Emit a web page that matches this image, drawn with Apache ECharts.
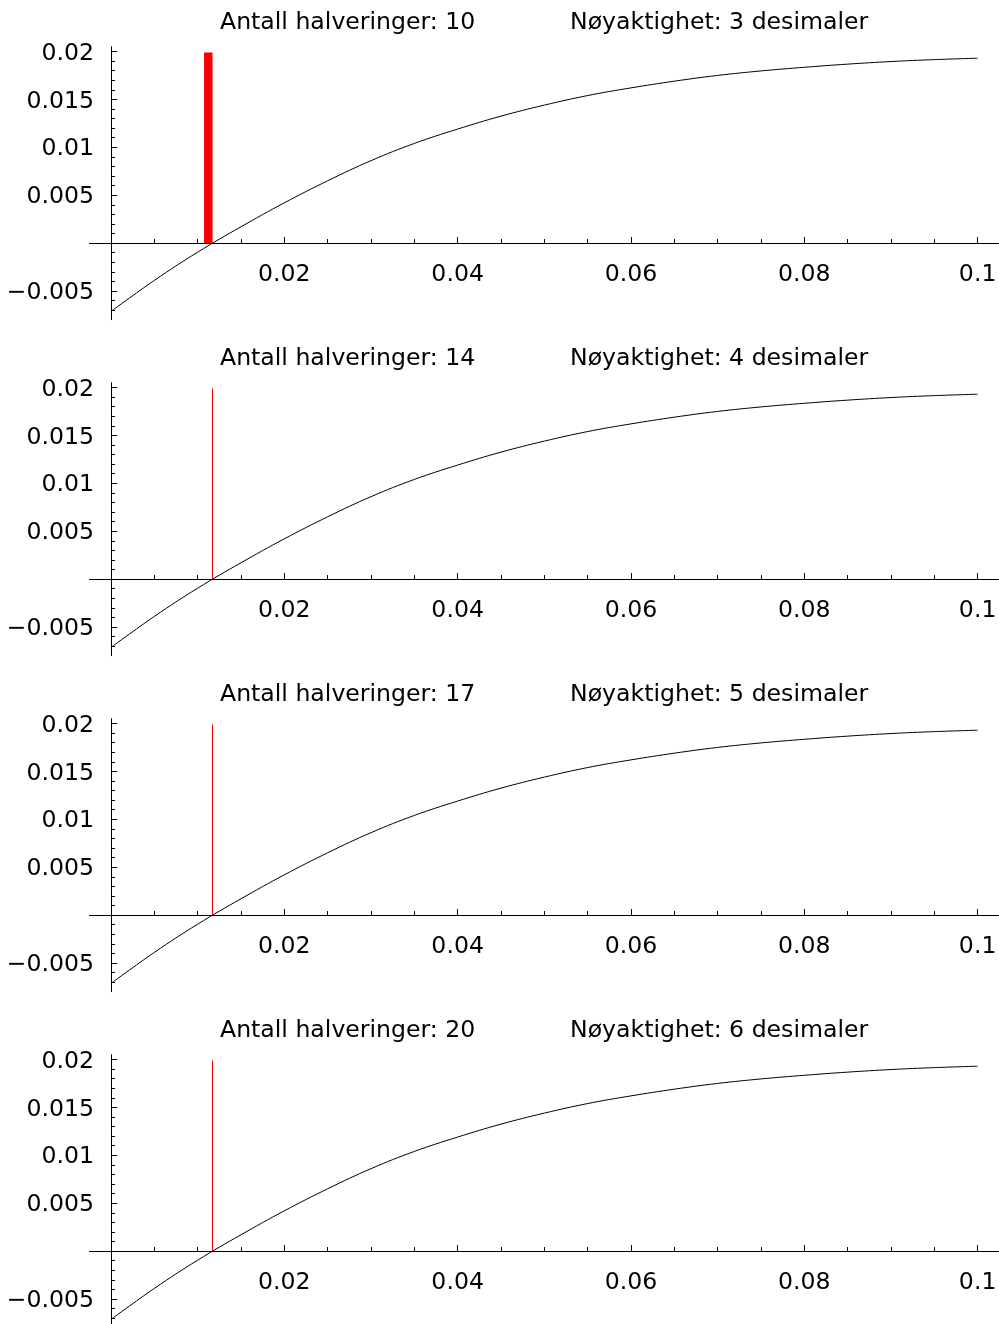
<!DOCTYPE html>
<html>
<head>
<meta charset="utf-8">
<script src="https://cdn.jsdelivr.net/npm/echarts@6/dist/echarts.min.js"></script>
<style>
html,body{margin:0;padding:0;background:#fff;}
#chart{width:999px;height:1324px;}
</style>
</head>
<body>
<div id="chart"></div>
<script>
// ---- data ----
const curveX = [0, 0.005, 0.01, 0.015, 0.02, 0.025, 0.03, 0.035, 0.04, 0.045, 0.05, 0.055, 0.06, 0.065, 0.07, 0.075, 0.08, 0.085, 0.09, 0.095, 0.1];
const curveY = [-0.00714, -0.0039, -0.00095, 0.0017, 0.0042, 0.0065, 0.0086, 0.0104, 0.0119, 0.01325, 0.0144, 0.0154, 0.0162, 0.0169, 0.0175, 0.01797, 0.01835, 0.01868, 0.01895, 0.01915, 0.0193];

const halvings = [10, 14, 17, 20];
const decimals = [3, 4, 5, 6];
const intervalLo = [0.01074, 0.01166, 0.01171, 0.011711];
const intervalHi = [0.01172, 0.01172, 0.011719, 0.011719];
const barTop = 0.0199;

const xMajorTicks = [0.02, 0.04, 0.06, 0.08, 0.1];
const xMinorTicks = [0.005, 0.01, 0.015, 0.025, 0.03, 0.035, 0.045, 0.05, 0.055, 0.065, 0.07, 0.075, 0.085, 0.09, 0.095];
const yMajorTicks = [-0.005, 0.005, 0.01, 0.015, 0.02];
const yMinorTicks = [-0.007, -0.006, -0.004, -0.003, -0.002, -0.001, 0.001, 0.002, 0.003, 0.004, 0.006, 0.007, 0.008, 0.009, 0.011, 0.012, 0.013, 0.014, 0.016, 0.017, 0.018, 0.019];

const xRange = [-0.0025, 0.1025];
const yRange = [-0.008, 0.0205];

// ---- chart ----
const FONT = 'DejaVu Sans';
const FS = 23.6;
const PANEL_H = 336;
const GRID_LEFT = 89.3, GRID_W = 910, GRID_TOP = 46.7, GRID_H = 273;
const fmt = v => String(v).replace('-', '\u2212');

// axes placed at the zero of the other axis (through offsets)
const xAxisOffset = -((0 - yRange[0]) / (yRange[1] - yRange[0])) * GRID_H;
const yAxisOffset = -((0 - xRange[0]) / (xRange[1] - xRange[0])) * GRID_W;

const titles = [], grids = [], xAxes = [], yAxes = [], series = [];
const curveData = curveX.map((x, i) => [x, curveY[i]]);
const txt = {fontFamily: FONT, fontSize: FS, fontWeight: 'normal', color: '#000'};

for (let i = 0; i < 4; i++) {
  const off = PANEL_H * i;
  titles.push({text: 'Antall halveringer: ' + halvings[i], left: 220, top: 11 + off, padding: 0, textStyle: txt});
  titles.push({text: 'Nøyaktighet: ' + decimals[i] + ' desimaler', left: 570, top: 11 + off, padding: 0, textStyle: txt});
  grids.push({left: GRID_LEFT, width: GRID_W, top: GRID_TOP + off, height: GRID_H, containLabel: false, outerBoundsMode: 'none'});

  const xBase = {
    type: 'value', gridIndex: i, min: xRange[0], max: xRange[1], position: 'bottom', offset: xAxisOffset,
    splitLine: {show: false}, minorTick: {show: false}, minorSplitLine: {show: false}
  };
  xAxes.push(Object.assign({}, xBase, {
    axisLine: {show: true, onZero: false, lineStyle: {color: '#000', width: 1}},
    axisTick: {show: true, inside: true, length: 6, customValues: xMajorTicks, lineStyle: {color: '#000', width: 1}},
    axisLabel: {show: true, customValues: xMajorTicks, formatter: fmt, margin: 20,
      fontFamily: FONT, fontSize: FS, color: '#000'}
  }));
  xAxes.push(Object.assign({}, xBase, {
    axisLine: {show: false, onZero: false},
    axisTick: {show: true, inside: true, length: 4, customValues: xMinorTicks, lineStyle: {color: '#000', width: 1}},
    axisLabel: {show: false}
  }));

  const yBase = {
    type: 'value', gridIndex: i, min: yRange[0], max: yRange[1], position: 'left', offset: yAxisOffset,
    splitLine: {show: false}, minorTick: {show: false}, minorSplitLine: {show: false}
  };
  yAxes.push(Object.assign({}, yBase, {
    axisLine: {show: true, onZero: false, lineStyle: {color: '#000', width: 1}},
    axisTick: {show: true, inside: true, length: 6, customValues: yMajorTicks, lineStyle: {color: '#000', width: 1}},
    axisLabel: {show: true, customValues: yMajorTicks, margin: 17,
      formatter: v => '{a|' + fmt(v) + '}',
      rich: {a: {fontFamily: FONT, fontSize: FS, color: '#000', padding: [4, 0, 0, 0]}},
      fontFamily: FONT, fontSize: FS, color: '#000'}
  }));
  yAxes.push(Object.assign({}, yBase, {
    axisLine: {show: false, onZero: false},
    axisTick: {show: true, inside: true, length: 4, customValues: yMinorTicks, lineStyle: {color: '#000', width: 1}},
    axisLabel: {show: false}
  }));

  series.push({
    type: 'line', xAxisIndex: 2 * i, yAxisIndex: 2 * i,
    data: curveData, smooth: 0.4, showSymbol: false, symbol: 'none',
    lineStyle: {color: '#000', width: 1}, silent: true, animation: false, z: 3
  });
  series.push({
    type: 'custom', xAxisIndex: 2 * i, yAxisIndex: 2 * i,
    data: [[intervalLo[i], intervalHi[i], barTop]],
    encode: {x: [0, 1], y: 2},
    clip: false, silent: true, animation: false, z: 2,
    renderItem: function (params, api) {
      const p0 = api.coord([api.value(0), api.value(2)]);
      const p1 = api.coord([api.value(1), 0]);
      const w = p1[0] - p0[0];
      if (w < 1.5) {
        const cx = Math.round(p1[0]) - 0.5;
        return {type: 'line', shape: {x1: cx, y1: p0[1], x2: cx, y2: p1[1]},
          style: {stroke: '#ff0000', lineWidth: 1}};
      }
      return {type: 'rect', shape: {x: p0[0], y: p0[1], width: w, height: p1[1] - p0[1]},
        style: {fill: '#ff0000'}};
    }
  });
}

const chart = echarts.init(document.getElementById('chart'), null, {renderer: 'canvas'});
chart.setOption({
  animation: false,
  backgroundColor: '#fff',
  title: titles,
  grid: grids,
  xAxis: xAxes,
  yAxis: yAxes,
  series: series
});
</script>
</body>
</html>
